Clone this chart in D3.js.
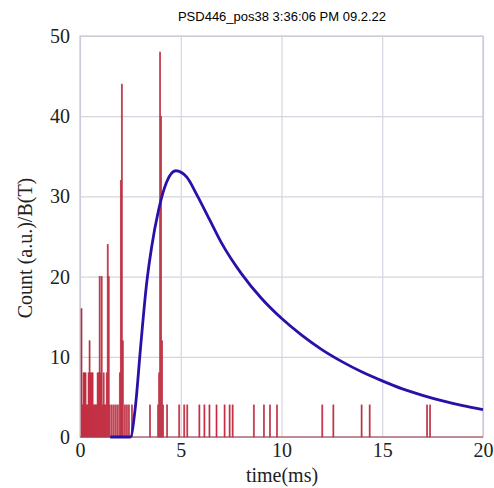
<!DOCTYPE html>
<html>
<head>
<meta charset="utf-8">
<script src="https://cdn.jsdelivr.net/npm/d3@7"></script>
<style>
  body { margin: 0; background: #fff; }
  svg { display: block; }
</style>
</head>
<body>
<div id="grafica"></div>
<script>
'use strict'

//---------------------------Datos--------------------------------//
// histograma: inicio de cada bin (ms) y su cuenta
var binTimes = [0.05, 0.10, 0.15, 0.20, 0.25, 0.30, 0.35, 0.40, 0.45, 0.50, 0.55, 0.60, 0.65, 0.70,
  0.75, 0.80, 0.85, 0.90, 0.95, 1.00, 1.05, 1.10, 1.15, 1.20, 1.25, 1.30, 1.35, 1.40, 1.45,
  1.55, 1.65, 1.75, 1.85, 1.95, 2.00, 2.05, 2.10, 2.20, 2.30, 2.40, 2.55, 3.45,
  3.85, 3.90, 3.95, 4.00, 4.05, 4.10, 4.30, 4.90, 5.15, 5.30,
  5.90, 6.15, 6.40, 6.75, 7.15, 7.40, 7.55, 8.60, 9.10, 9.40, 9.75,
  12.00, 12.55, 13.95, 14.35, 17.20, 17.35];
var binCounts = [16, 4, 8, 8, 8, 4, 4, 8, 12, 8, 8, 8, 4, 4,
  4, 4, 8, 8, 20, 8, 20, 4, 8, 4, 4, 8, 24, 20, 4,
  4, 4, 4, 4, 8, 32, 44, 12, 4, 4, 4, 4, 4,
  4, 8, 48, 40, 12, 4, 4, 4, 4, 4,
  4, 4, 4, 4, 4, 4, 4, 4, 4, 4, 4,
  4, 4, 4, 4, 4, 4];
var binWidth = 0.05;

// curva de ajuste (azul)
var fitTimes = [1.5, 2.5, 2.75, 3.0, 3.3, 3.55, 3.9, 4.3, 4.75, 5.3, 5.8, 6.45, 7, 8, 9, 10,
  11, 12, 13, 14, 15, 16, 17, 18, 19, 20];
var fitValues = [0, 0, 3.8, 11.0, 19.0, 23.6, 28.3, 31.8, 33.2, 32.4, 30.2, 27.0, 24.3, 20.4, 17.3, 14.8,
  12.7, 10.9, 9.4, 8.1, 7.0, 6.0, 5.2, 4.5, 3.9, 3.4];

var xTicks = [0, 5, 10, 15, 20];
var yTicks = [0, 10, 20, 30, 40, 50];

//---------------------------Grafica--------------------------------//
var W = 494, H = 488;
var margin = { top: 36, right: 11, bottom: 51, left: 80 },
  width = W - margin.left - margin.right,
  height = H - margin.top - margin.bottom;

var svg = d3.select('#grafica').append('svg')
  .attr('width', W)
  .attr('height', H);

svg.append('text')
  .attr('x', 282)
  .attr('y', 21)
  .attr('text-anchor', 'middle')
  .style('font-family', 'Liberation Sans, Arial, sans-serif')
  .style('font-size', '13px')
  .style('font-weight', 500)
  .text('PSD446_pos38 3:36:06 PM 09.2.22');

var g = svg.append('g')
  .attr('transform', 'translate(' + margin.left + ',' + margin.top + ')');

var x = d3.scaleLinear().domain([0, 20]).range([0, width]);
var y = d3.scaleLinear().domain([0, 50]).range([height, 0]);

// rejilla
g.append('g')
  .attr('class', 'grid')
  .call(d3.axisBottom(x).tickValues(xTicks).tickSize(height).tickFormat(''))
  .call(s => s.select('.domain').remove())
  .selectAll('line').attr('stroke', '#d6d4e0').attr('stroke-width', 1.2);
g.append('g')
  .attr('class', 'grid')
  .call(d3.axisLeft(y).tickValues(yTicks).tickSize(-width).tickFormat(''))
  .call(s => s.select('.domain').remove())
  .selectAll('line').attr('stroke', '#d6d4e0').attr('stroke-width', 1.2);

// marco
g.append('rect')
  .attr('width', width).attr('height', height)
  .attr('fill', 'none').attr('stroke', '#c8c6d4').attr('stroke-width', 1.2);

// histograma
var bins = binTimes.map(function (t, i) { return { t: t, c: binCounts[i] }; });
g.selectAll('rect.bin').data(bins).enter().append('rect')
  .attr('class', 'bin')
  .attr('x', function (d) { return x(d.t); })
  .attr('width', function (d) { return x(d.t + binWidth) - x(d.t); })
  .attr('y', function (d) { return y(d.c); })
  .attr('height', function (d) { return y(0) - y(d.c); })
  .attr('fill', '#dc0424')
  .attr('stroke', '#b8404f')
  .attr('stroke-width', 0.7);

// linea base del histograma
g.append('line')
  .attr('x1', x(0)).attr('x2', x(20))
  .attr('y1', y(0)).attr('y2', y(0))
  .attr('stroke', '#a04452').attr('stroke-width', 1.2);

// curva azul
var fit = fitTimes.map(function (t, i) { return { t: t, v: fitValues[i] }; });
var linea = d3.line()
  .x(function (d) { return x(d.t); })
  .y(function (d) { return y(d.v); })
  .curve(d3.curveMonotoneX);
g.append('path')
  .datum(fit)
  .attr('fill', 'none')
  .attr('stroke', '#2a10a8')
  .attr('stroke-width', 2.8)
  .attr('d', linea);

// ejes
var ejeX = g.append('g')
  .attr('transform', 'translate(0,' + height + ')')
  .call(d3.axisBottom(x).tickValues(xTicks).tickSize(0).tickPadding(6));
ejeX.select('.domain').remove();
ejeX.selectAll('text')
  .style('font-family', 'Liberation Serif, Times New Roman, serif')
  .style('font-size', '20px')
  .style('fill', '#222');

var ejeY = g.append('g')
  .call(d3.axisLeft(y).tickValues(yTicks).tickSize(0).tickPadding(10));
ejeY.select('.domain').remove();
ejeY.selectAll('text')
  .style('font-family', 'Liberation Serif, Times New Roman, serif')
  .style('font-size', '20px')
  .style('fill', '#222');

svg.append('text')
  .attr('x', 282)
  .attr('y', 482)
  .attr('text-anchor', 'middle')
  .style('font-family', 'Liberation Serif, Times New Roman, serif')
  .style('font-size', '20px')
  .style('fill', '#222')
  .text('time(ms)');

svg.append('text')
  .attr('transform', 'translate(32,248) rotate(-90)')
  .attr('text-anchor', 'middle')
  .style('font-family', 'Liberation Serif, Times New Roman, serif')
  .style('font-size', '20px')
  .style('fill', '#222')
  .text('Count (a.u.)/B(T)');
</script>
</body>
</html>
